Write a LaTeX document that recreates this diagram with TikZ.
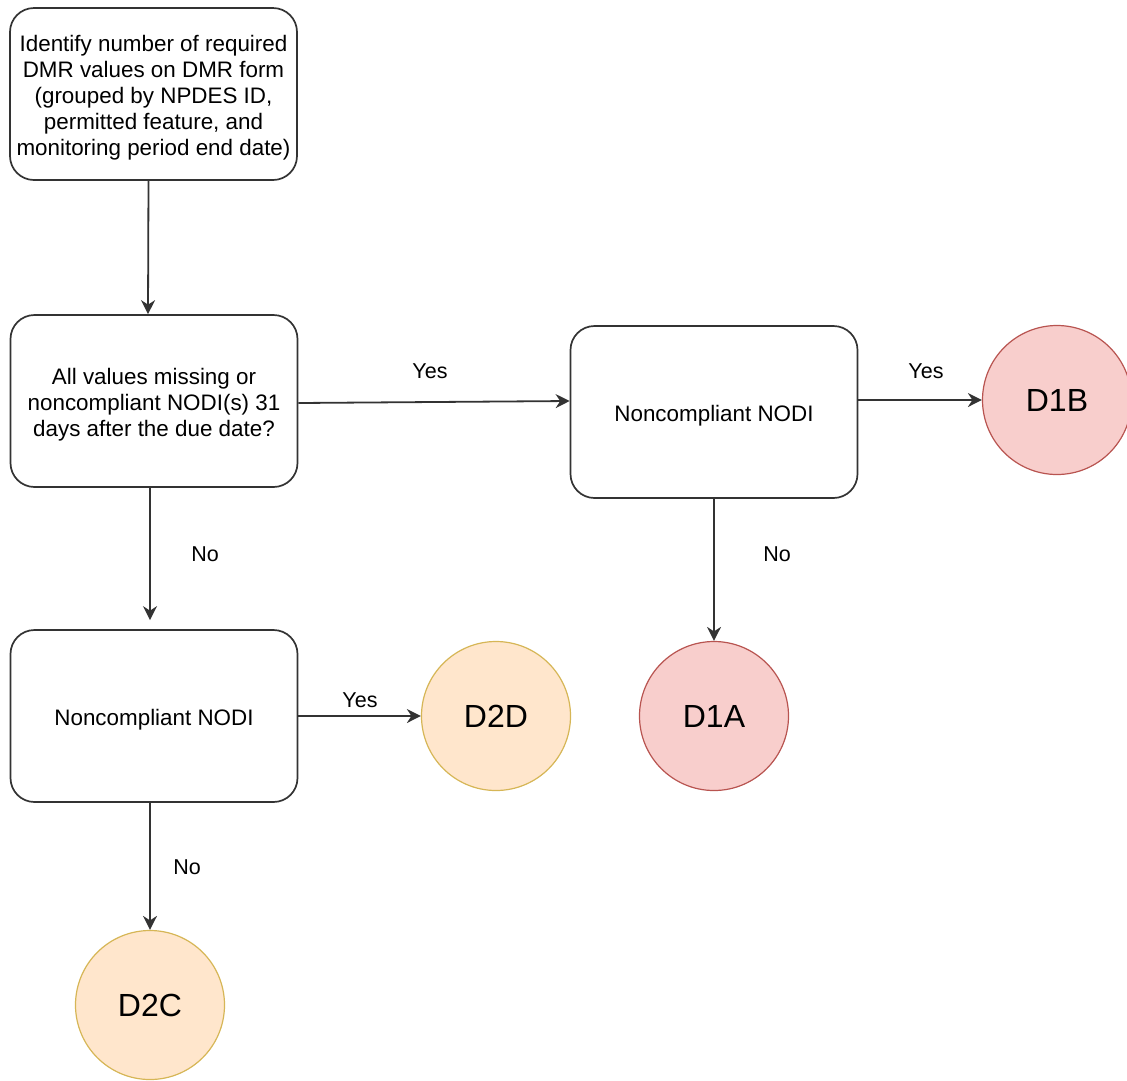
\documentclass[tikz,border=0pt]{standalone}
\usepackage{fontspec}
\setmainfont{Liberation Sans}
\usetikzlibrary{arrows.meta,calc}
\definecolor{boxline}{HTML}{333333}
\definecolor{redfill}{HTML}{F8CECC}
\definecolor{redline}{HTML}{B85450}
\definecolor{orangefill}{HTML}{FFE6CC}
\definecolor{orangeline}{HTML}{D6B656}
% taller first line, so the box text sits a little lower
\newcommand\firstlinepad{\rule{0pt}{23pt}}
\begin{document}
\begin{tikzpicture}[x=1pt,y=-1pt,
  procbox/.style={draw=boxline,line width=1.7pt,rounded corners=24pt,fill=white,
    minimum width=287pt,minimum height=172pt,align=center,inner sep=4pt,
    font=\fontsize{22.4}{26}\selectfont},
  endred/.style={circle,draw=redline,fill=redfill,line width=1.2pt,minimum size=149pt,inner sep=0pt,
    font=\fontsize{32}{36}\selectfont},
  endorange/.style={circle,draw=orangeline,fill=orangefill,line width=1.2pt,minimum size=149pt,inner sep=0pt,
    font=\fontsize{32}{36}\selectfont},
  flow/.style={draw=black!80,line width=1.8pt,-{Stealth[length=14pt,width=14pt,inset=4.5pt]}},
  lbl/.style={font=\fontsize{21.5}{24}\selectfont,inner sep=0pt}]
\useasboundingbox (0,0) rectangle (1127,1080);

% decision and process boxes
\node[procbox] (identify) at (153.5,94) {\firstlinepad Identify number of required\\DMR values on DMR form\\(grouped by NPDES ID,\\permitted feature, and\\monitoring period end date)};
\node[procbox] (allmissing) at (154,401) {\firstlinepad All values missing or\\noncompliant NODI(s) 31\\days after the due date?};
\node[procbox] (nodiright) at (714,412) {\firstlinepad Noncompliant NODI};
\node[procbox] (nodileft) at (154,716) {\firstlinepad Noncompliant NODI};

% outcome circles
\node[endred] (d1b) at (1057,400) {D1B};
\node[endred] (d1a) at (714,716) {D1A};
\node[endorange] (d2d) at (496,716) {D2D};
\node[endorange] (d2c) at (150,1005) {D2C};

% connectors
\draw[flow] ([xshift=-5pt]identify.south) -- ([xshift=-6pt]allmissing.north);
\draw[flow] ([yshift=-2pt]allmissing.east) -- ($(nodiright.west |- allmissing.east)$);
\draw[flow] ($(nodiright.east |- d1b.west)$) -- (d1b.west);
\draw[flow] (nodiright.south) -- (d1a.north);
\draw[flow,shorten >=9pt] ([xshift=-4pt]allmissing.south) -- ([xshift=-4pt]nodileft.north);
\draw[flow] (nodileft.east) -- (d2d.west);
\draw[flow] ([xshift=-4pt]nodileft.south) -- (d2c.north);

% branch labels
\node[lbl] (yes1) at (430,371) {Yes};
\node[lbl] (yes2) at (926,371) {Yes};
\node[lbl] (no1) at (777,554) {No};
\node[lbl] (no2) at (205,554) {No};
\node[lbl] (yes3) at (360,700) {Yes};
\node[lbl] (no3) at (187,867) {No};
\end{tikzpicture}
\end{document}
